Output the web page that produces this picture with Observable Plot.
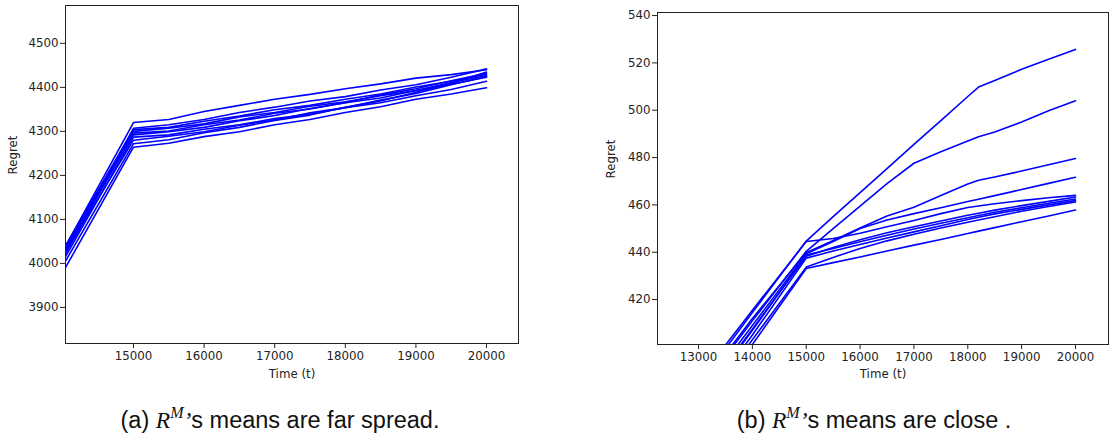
<!DOCTYPE html>
<html>
<head>
<meta charset="utf-8">
<script src="https://cdn.jsdelivr.net/npm/d3@7"></script>
<script src="https://cdn.jsdelivr.net/npm/@observablehq/plot@0.6"></script>
<style>
  html, body { margin: 0; padding: 0; background: #fff; }
  #page { position: relative; width: 1109px; height: 435px; overflow: hidden; }
  #page > svg { position: absolute; }
</style>
</head>
<body>
<div id="page"></div>
<script>
// ---- (a) runs whose means are far spread ----
const spreadTimes = [14000, 15000, 15500, 16000, 16500, 17000, 17500, 18000, 18500, 19000, 19500, 20000];
const spreadRuns = [
  [4028, 4320, 4327, 4345, 4359, 4373, 4384, 4397, 4408, 4421, 4429, 4440],
  [4020, 4307, 4315, 4327, 4343, 4355, 4369, 4379, 4394, 4406, 4423, 4442],
  [4030, 4304, 4309, 4323, 4335, 4349, 4359, 4373, 4385, 4401, 4414, 4430],
  [4012, 4300, 4307, 4317, 4333, 4343, 4357, 4367, 4381, 4393, 4411, 4427],
  [4025, 4296, 4301, 4315, 4326, 4341, 4351, 4365, 4376, 4393, 4407, 4423],
  [4018, 4292, 4299, 4309, 4324, 4336, 4352, 4365, 4383, 4397, 4415, 4432],
  [4005, 4287, 4292, 4305, 4315, 4329, 4339, 4354, 4365, 4381, 4395, 4414],
  [4015, 4280, 4289, 4299, 4314, 4326, 4342, 4354, 4371, 4386, 4406, 4425],
  [3995, 4272, 4281, 4297, 4309, 4325, 4337, 4355, 4369, 4389, 4409, 4435],
  [3980, 4264, 4273, 4288, 4299, 4315, 4327, 4343, 4356, 4373, 4385, 4399]
];
const spreadXTicks = [15000, 16000, 17000, 18000, 19000, 20000];
const spreadYTicks = [3900, 4000, 4100, 4200, 4300, 4400, 4500];

// ---- (b) runs whose means are close ----
const closeTimes = [13000, 14000, 15000, 15500, 16000, 16500, 17000, 17500, 18000, 18200, 18500, 19000, 19500, 20000];
const closeRuns = [
  [384, 414.5, 444.7, 455.0, 465.2, 475.3, 485.6, 495.6, 505.8, 509.8, 512.6, 517.3, 521.5, 525.7],
  [381, 411.0, 440.4, 450.0, 459.5, 469.0, 477.6, 482.5, 487.0, 488.8, 490.8, 495.0, 499.8, 504.0],
  [382, 412.0, 439.8, 445.0, 450.2, 455.3, 459.0, 464.0, 468.8, 470.4, 471.8, 474.3, 477.0, 479.6],
  [379, 409.0, 439.3, 444.5, 450.0, 453.6, 456.3, 458.8, 461.4, 462.4, 463.9, 466.5, 469.1, 471.7],
  [386, 415.5, 444.5, 445.8, 448.0, 450.8, 453.4, 456.3, 458.9, 459.5, 460.5, 461.8, 463.0, 464.0],
  [377, 407.5, 438.3, 442.0, 445.3, 448.2, 450.8, 453.2, 455.6, 456.5, 457.8, 459.7, 461.5, 463.3],
  [376, 407.0, 438.8, 441.6, 444.4, 447.2, 449.8, 452.2, 454.6, 455.5, 456.9, 458.8, 460.7, 462.5],
  [374, 405.0, 437.5, 440.5, 443.3, 446.0, 448.6, 451.2, 453.8, 454.8, 456.2, 458.1, 460.0, 461.8],
  [372, 403.0, 433.7, 437.8, 441.6, 444.8, 447.6, 450.2, 452.7, 453.6, 455.0, 457.3, 459.3, 461.2],
  [370, 401.0, 433.1, 435.6, 438.0, 440.5, 443.0, 445.4, 447.9, 448.9, 450.4, 452.9, 455.3, 457.8]
];
const closeXTicks = [13000, 14000, 15000, 16000, 17000, 18000, 19000, 20000];
const closeYTicks = [420, 440, 460, 480, 500, 520, 540];

const axisTitleX = "Time (t)";
const axisTitleY = "Regret";

function regretPanel({times, runs, xDomain, yDomain, xTicks, yTicks, width, height,
                      marginLeft, marginRight, marginTop, marginBottom, xTitleDy, yTitleDx}) {
  const rows = runs.flatMap((vals, run) => vals.map((regret, j) => ({run, t: times[j], regret})));
  return Plot.plot({
    width, height, marginLeft, marginRight, marginTop, marginBottom,
    style: {fontFamily: "'DejaVu Sans', sans-serif", fontSize: "11.8px", color: "#222", background: "transparent"},
    x: {domain: xDomain, ticks: xTicks, tickFormat: d3.format("d"), tickSize: 5, tickPadding: 3, label: null},
    y: {domain: yDomain, ticks: yTicks, tickFormat: d3.format("d"), tickSize: 5, tickPadding: 2, label: null},
    marks: [
      Plot.line(rows, {x: "t", y: "regret", z: "run", stroke: "#0000ff", strokeWidth: 1.6, clip: true}),
      Plot.frame({stroke: "#222", strokeWidth: 1}),
      Plot.text([axisTitleX], {text: d => d, frameAnchor: "bottom", dy: xTitleDy, fill: "#222"}),
      Plot.text([axisTitleY], {text: d => d, frameAnchor: "left", dx: yTitleDx, rotate: -90, fill: "#222"})
    ]
  });
}

const page = document.getElementById("page");

const left = regretPanel({
  times: spreadTimes, runs: spreadRuns,
  xDomain: [14037, 20453], yDomain: [3818, 4586],
  xTicks: spreadXTicks, yTicks: spreadYTicks,
  width: 540, height: 380,
  marginLeft: 65, marginRight: 22, marginTop: 5, marginBottom: 37,
  xTitleDy: 34, yTitleDx: -52
});
left.style.left = "0px"; left.style.top = "0px";
page.appendChild(left);

const right = regretPanel({
  times: closeTimes, runs: closeRuns,
  xDomain: [12238, 20613], yDomain: [401, 541.3],
  xTicks: closeXTicks, yTicks: closeYTicks,
  width: 539, height: 380,
  marginLeft: 87, marginRight: 1, marginTop: 12, marginBottom: 36,
  xTitleDy: 33, yTitleDx: -46
});
right.style.left = "570px"; right.style.top = "0px";
page.appendChild(right);

// sub-figure captions
const svgNS = "http://www.w3.org/2000/svg";
const capSvg = document.createElementNS(svgNS, "svg");
capSvg.setAttribute("width", 1109);
capSvg.setAttribute("height", 435);
capSvg.style.left = "0px"; capSvg.style.top = "0px";
page.appendChild(capSvg);

const captions = [
  {x: 280, lead: "(a) ", tail: "s means are far spread."},
  {x: 874, lead: "(b) ", tail: "s means are close ."}
];
for (const c of captions) {
  const t = document.createElementNS(svgNS, "text");
  t.setAttribute("x", c.x);
  t.setAttribute("y", 428);
  t.setAttribute("text-anchor", "middle");
  t.setAttribute("font-family", "'Liberation Sans', Arial, sans-serif");
  t.setAttribute("font-size", 23.5);
  t.setAttribute("fill", "#111");
  const parts = [
    {s: c.lead},
    {s: "R", serif: true},
    {s: "M", serif: true, sup: true},
    {s: "\u2019", serif: true, down: true},
    {s: c.tail}
  ];
  for (const p of parts) {
    const sp = document.createElementNS(svgNS, "tspan");
    sp.textContent = p.s;
    if (p.serif) { sp.setAttribute("font-family", "'Liberation Serif', serif"); sp.setAttribute("font-style", "italic"); }
    if (p.sup) { sp.setAttribute("font-size", 16); sp.setAttribute("dy", -10); }
    if (p.down) { sp.setAttribute("dy", 10); }
    t.appendChild(sp);
  }
  capSvg.appendChild(t);
}
</script>
</body>
</html>
